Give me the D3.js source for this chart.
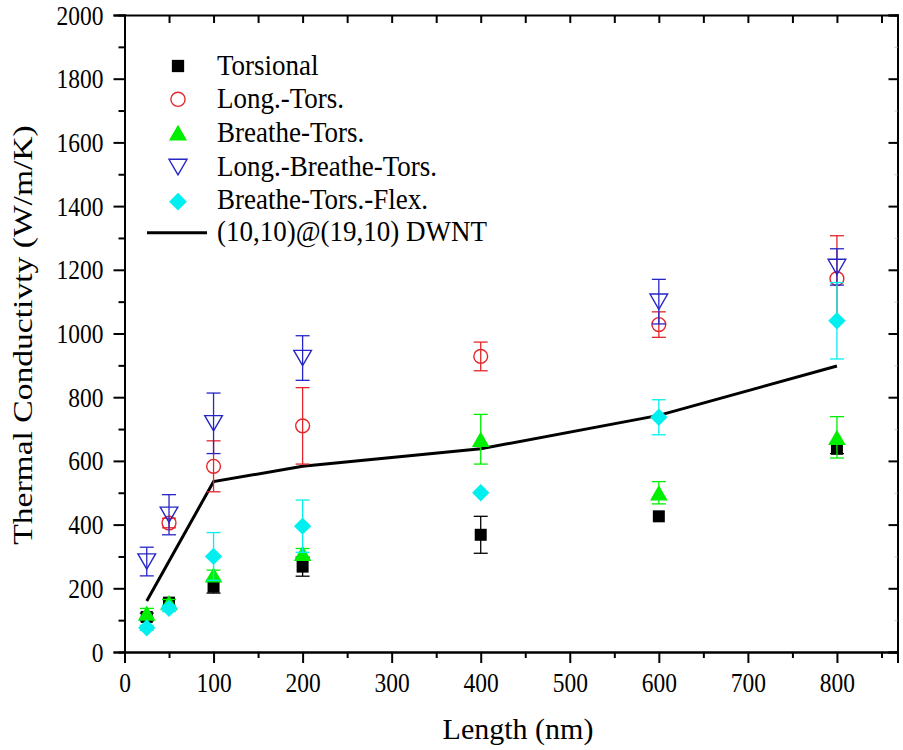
<!DOCTYPE html>
<html><head><meta charset="utf-8">
<script src="https://cdn.jsdelivr.net/npm/d3@7"></script>
<style>body{margin:0;background:#fff}svg{display:block}
svg text{font-family:"Liberation Serif","Tinos","Times New Roman","DejaVu Serif",serif;}</style>
</head><body>
<svg id="c" width="903" height="750"></svg>
<script>
const lengths = [25, 50, 100, 200, 400, 600, 800];
const torsional      = [110, 155, 205, 268, 368, 426, 638];
const torsionalErr   = [12, 10, 20, 30, 58, 0, 15];
const longTors       = [null, 405, 583, 710, 928, 1028, 1172];
const longTorsErr    = [null, 15, 80, 120, 45, 40, 135];
const breatheTors    = [122, 155, 242, 310, 668, 500, 674];
const breatheTorsErr = [15, 10, 15, 15, 78, 35, 65];
const longBreathe    = [284, 431, 718, 923, null, 1100, 1209];
const longBreatheErr = [45, 63, 95, 70, null, 70, 57];
const flex           = [76, 137, 300, 395, 500, 737, 1040];
const flexErr        = [8, 10, 75, 82, 0, 55, 120];
const dwntX = [25, 100, 200, 400, 600, 800];
const dwntY = [160, 535, 583, 638, 743, 898];
const xTicks = [0, 100, 200, 300, 400, 500, 600, 700, 800];
const yTicks = [0, 200, 400, 600, 800, 1000, 1200, 1400, 1600, 1800, 2000];
const legendLabels = ["Torsional", "Long.-Tors.", "Breathe-Tors.", "Long.-Breathe-Tors.", "Breathe-Tors.-Flex.", "(10,10)@(19,10) DWNT"];

const svg = d3.select("#c");
const x = d3.scaleLinear().domain([0, 868]).range([124.5, 897.5]);
const y = d3.scaleLinear().domain([0, 2000]).range([652, 15]);

const minorX = d3.range(50, 868, 100);
const minorY = d3.range(100, 2000, 200);
const axBottom = svg.append("g").attr("transform", `translate(0,${y(0)})`)
  .call(d3.axisBottom(x).tickValues(xTicks).tickSize(11).tickFormat(d3.format("d")));
const axLeft = svg.append("g").attr("transform", `translate(${x(0)},0)`)
  .call(d3.axisLeft(y).tickValues(yTicks).tickSize(11).tickFormat(d3.format("d")));
const axTop = svg.append("g").attr("transform", `translate(0,${y(2000)})`)
  .call(d3.axisBottom(x).tickValues(d3.range(0, 868, 50)).tickSize(8).tickFormat(""));
const axRight = svg.append("g").attr("transform", `translate(${x(868)},0)`)
  .call(d3.axisLeft(y).tickValues(yTicks).tickSize(9).tickFormat(""));
svg.append("g").attr("transform", `translate(0,${y(0)})`)
  .call(d3.axisBottom(x).tickValues(minorX).tickSize(6).tickFormat(""));
svg.append("g").attr("transform", `translate(${x(0)},0)`)
  .call(d3.axisLeft(y).tickValues(minorY).tickSize(6).tickFormat(""));
const axRightMinor = svg.append("g").attr("transform", `translate(${x(868)},0)`)
  .call(d3.axisLeft(y).tickValues(minorY).tickSize(3).tickFormat(""));
svg.selectAll("g").attr("font-family", null);
svg.selectAll(".domain").attr("stroke", "#000").attr("stroke-width", 2);
svg.selectAll(".tick line").attr("stroke-width", 2);
axRightMinor.selectAll(".tick line").attr("stroke", "#ccc").attr("stroke-width", 1);
svg.selectAll(".tick text").attr("font-size", 23.5).attr("fill", "#000");
axBottom.selectAll(".tick text").attr("y", 0).attr("dy", null)
  .attr("transform", "translate(0,40) scale(1,1.12)");
axLeft.selectAll(".tick text").attr("x", 0).attr("dy", null)
  .attr("transform", "translate(-21,9) scale(1,1.12)");

svg.append("text").attr("transform", "translate(518,739)").attr("text-anchor", "middle")
  .attr("font-size", 30).text("Length (nm)");
svg.append("text").attr("transform", "translate(32,335) rotate(-90) scale(1.2,1)").attr("text-anchor", "middle")
  .attr("font-size", 28).text("Thermal Conductivty (W/m/K)");

const plot = svg.append("g");
const line = d3.line().x((d, i) => x(dwntX[i])).y(d => y(d));
plot.append("path").attr("d", line(dwntY)).attr("fill", "none").attr("stroke", "#000").attr("stroke-width", 3);

const series = [
  {vals: torsional, err: torsionalErr, color: "#000", sym: d3.symbolSquare, size: 144, fill: true},
  {vals: longTors, err: longTorsErr, color: "#e3262b", sym: d3.symbolCircle, size: 150, fill: false},
  {vals: breatheTors, err: breatheTorsErr, color: "#00ee00", sym: d3.symbolTriangle, size: 135, fill: true},
  {vals: longBreathe, err: longBreatheErr, color: "#2626c8", sym: d3.symbolTriangle, size: 135, fill: false, rot: 180},
  {vals: flex, err: flexErr, color: "#00f0f0", sym: d3.symbolSquare, size: 150, fill: true, rot: 45},
];
const triShift = s => s.sym === d3.symbolTriangle ? (s.rot ? -1 : 1) * 0.5 * Math.sqrt(s.size / (3 * Math.sqrt(3))) : 0;
series.forEach(s => {
  const g = plot.append("g");
  lengths.forEach((L, i) => {
    const v = s.vals[i];
    if (v == null) return;
    const e = s.err[i];
    if (e > 0) {
      g.append("line").attr("x1", x(L)).attr("x2", x(L)).attr("y1", y(v - e)).attr("y2", y(v + e))
        .attr("stroke", s.color).attr("stroke-width", 1.3);
      [v - e, v + e].forEach(w => g.append("line").attr("x1", x(L) - 7).attr("x2", x(L) + 7)
        .attr("y1", y(w)).attr("y2", y(w)).attr("stroke", s.color).attr("stroke-width", 1.3));
    }
    const sym = d3.symbol().type(s.sym).size(s.size);
    g.append("path").attr("d", sym())
      .attr("transform", `translate(${x(L)},${y(v) + triShift(s)}) rotate(${s.rot || 0})`)
      .attr("fill", s.fill ? s.color : "none").attr("stroke", s.color).attr("stroke-width", s.fill ? 0 : 1.4);
  });
});

const lg = svg.append("g");
const symY = [66, 99.3, 132.7, 167, 201.7];
const textY = [75, 108.3, 141.7, 175.5, 208.5, 241];
series.forEach((s, i) => {
  const sym = d3.symbol().type(s.sym).size(s.size * 1.05);
  lg.append("path").attr("d", sym())
    .attr("transform", `translate(178,${symY[i] + triShift(s)}) rotate(${s.rot || 0})`)
    .attr("fill", s.fill ? s.color : "none").attr("stroke", s.color).attr("stroke-width", s.fill ? 0 : 1.4);
});
lg.append("line").attr("x1", 147).attr("x2", 207).attr("y1", 232.7).attr("y2", 232.7).attr("stroke", "#000").attr("stroke-width", 3);
legendLabels.forEach((t, i) => {
  lg.append("text").attr("transform", `translate(217,${textY[i]}) scale(1,1.1)`).attr("font-size", 27).text(t);
});
</script>
</body></html>
